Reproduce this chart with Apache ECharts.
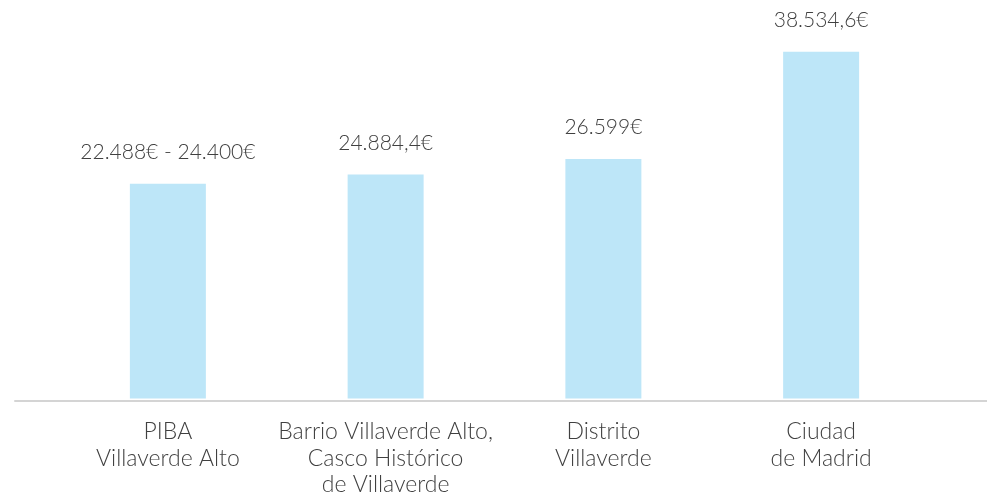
<!DOCTYPE html>
<html>
<head>
<meta charset="utf-8">
<script src="https://cdn.jsdelivr.net/npm/echarts@6/dist/echarts.min.js"></script>
<style>
html,body{margin:0;padding:0;background:#fff;}
#chart{width:987px;height:498px;}
</style>
</head>
<body>
<div id="chart"></div>
<script>
const categories = ['PIBA\nVillaverde Alto', 'Barrio Villaverde Alto,\nCasco Histórico\nde Villaverde', 'Distrito\nVillaverde', 'Ciudad\nde Madrid'];
const values = [23870, 24884.4, 26599, 38534.6];
const valueLabels = ['22.488€ - 24.400€', '24.884,4€', '26.599€', '38.534,6€'];

const chart = echarts.init(document.getElementById('chart'));
chart.setOption({
  animation: false,
  backgroundColor: '#ffffff',
  textStyle: { fontFamily: 'Lato' },
  grid: [
    { left: 59, right: 57, top: 38.5, bottom: 97, containLabel: false },
    { left: 15, right: 0, top: 38.5, bottom: 97, containLabel: false }
  ],
  xAxis: [
    {
      type: 'category', gridIndex: 0, data: categories,
      axisLine: { show: false }, axisTick: { show: false },
      axisLabel: {
        interval: 0, margin: 20, color: '#404040', fontFamily: 'Lato', fontWeight: 300,
        fontSize: 23, lineHeight: 26.5
      }
    },
    {
      type: 'value', gridIndex: 1, min: 0, max: 1,
      axisLine: { show: true, lineStyle: { color: '#d4d4d4', width: 2 } },
      axisTick: { show: false }, axisLabel: { show: false }, splitLine: { show: false }
    }
  ],
  yAxis: [
    { type: 'value', gridIndex: 0, min: 0, max: 40000, show: false, splitLine: { show: false } },
    { type: 'value', gridIndex: 1, min: 0, max: 1, show: false, splitLine: { show: false } }
  ],
  series: [{
    type: 'bar',
    xAxisIndex: 0, yAxisIndex: 0,
    data: values,
    barWidth: 76,
    itemStyle: { color: '#bde6f8' },
    label: {
      show: true, position: 'top', distance: 21,
      color: '#404040', fontFamily: 'Lato', fontWeight: 300, fontSize: 21,
      formatter: p => valueLabels[p.dataIndex]
    }
  }]
});
</script>
</body>
</html>
